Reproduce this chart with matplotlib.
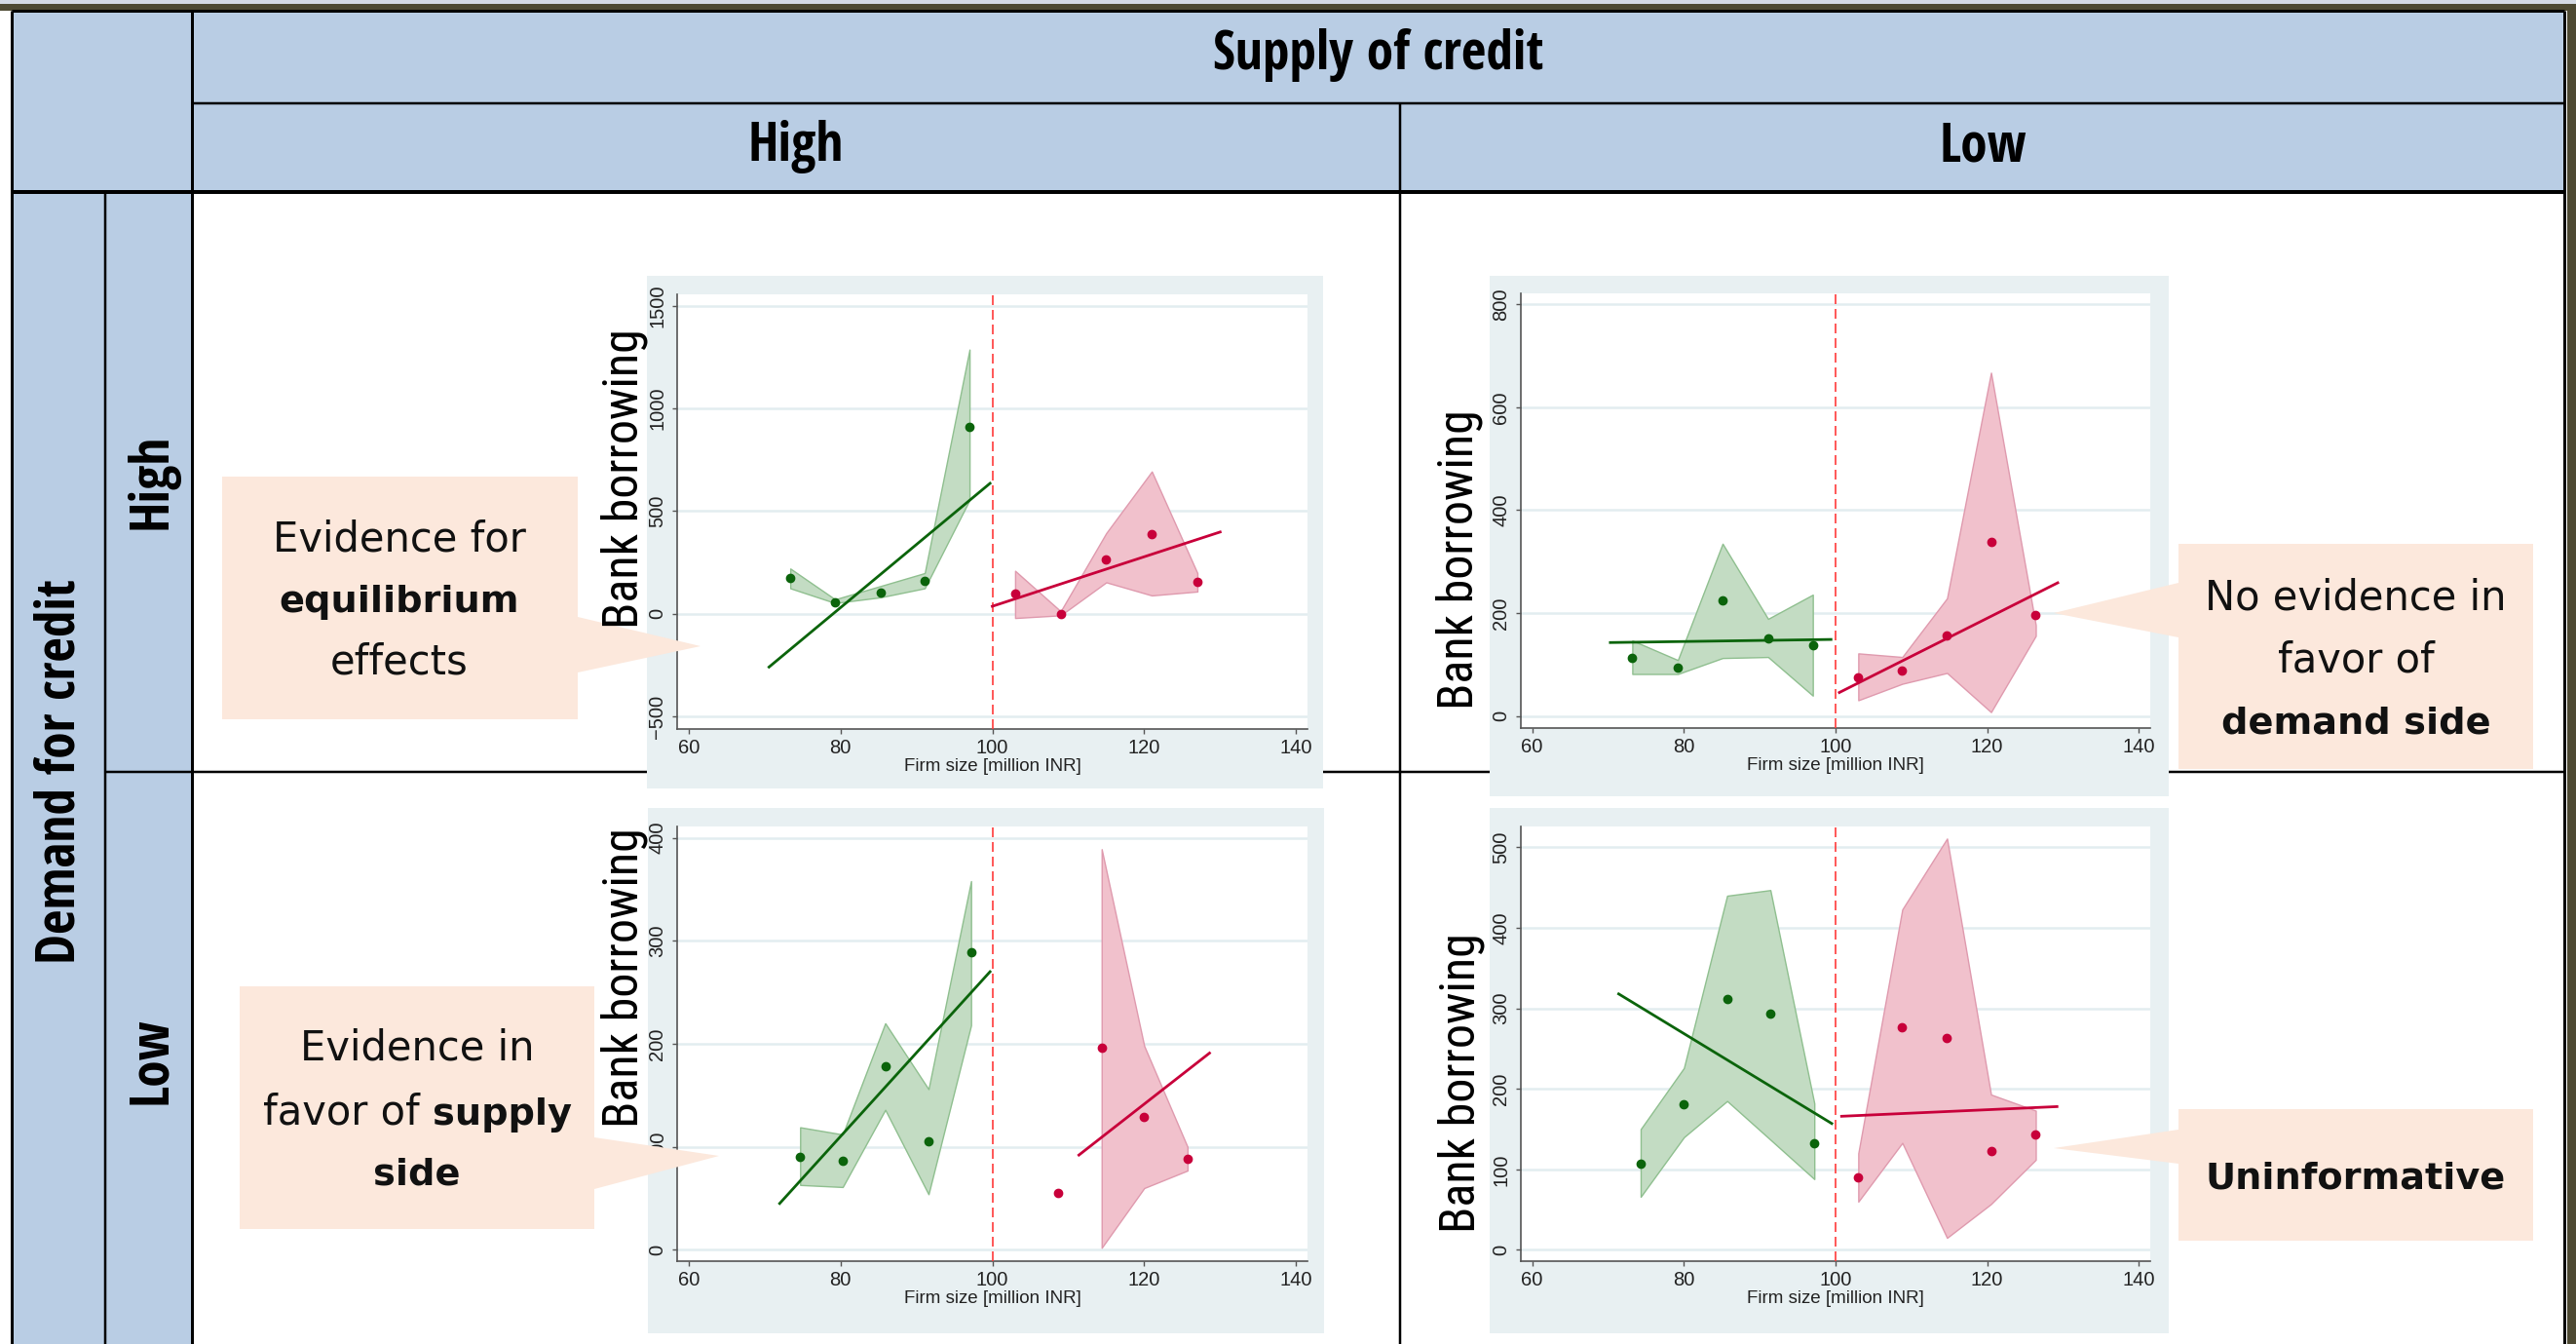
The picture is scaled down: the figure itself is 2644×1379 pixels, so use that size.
"""Credit supply / demand grid with four RD-style panels of bank borrowing."""

import matplotlib
matplotlib.use('Agg')
import matplotlib.pyplot as plt
from matplotlib.patches import Rectangle, Polygon
from matplotlib.lines import Line2D

W, H = 2644, 1379

# ---- data ----
# top-left: supply high, demand high
tl_green_x = [73.4, 79.3, 85.3, 91.1, 97.0]
tl_green_y = [172, 56, 101, 161, 911]
tl_green_lo = [124, 52, 80, 124, 554]
tl_green_hi = [220, 70, 135, 198, 1287]
tl_green_fit_x = [70.6, 99.7]
tl_green_fit_y = [-260, 635]
tl_red_x = [103.0, 109.0, 115.0, 121.0, 127.0]
tl_red_y = [97, 0, 265, 390, 153]
tl_red_band_x = [103.0, 109.0, 115.0, 121.0, 127.0]
tl_red_lo = [-21, -8, 153, 89, 108]
tl_red_hi = [209, 12, 393, 693, 198]
tl_red_fit_x = [100.0, 130.0]
tl_red_fit_y = [36, 398]
tl_yticks = [-500, 0, 500, 1000, 1500]

# top-right: supply low, demand high
tr_green_x = [73.2, 79.2, 85.1, 91.1, 97.0]
tr_green_y = [114, 94, 224, 151, 137]
tr_green_lo = [82, 82, 113, 115, 40]
tr_green_hi = [147, 109, 335, 189, 236]
tr_green_fit_x = [70.3, 99.4]
tr_green_fit_y = [143, 149]
tr_red_x = [103.0, 108.8, 114.7, 120.5, 126.4]
tr_red_y = [76, 88, 156, 338, 197]
tr_red_band_x = [103.0, 108.8, 114.7, 120.5, 126.4]
tr_red_lo = [31, 63, 84, 8, 156]
tr_red_hi = [122, 115, 229, 667, 177]
tr_red_fit_x = [100.5, 129.3]
tr_red_fit_y = [46, 259]
tr_yticks = [0, 200, 400, 600, 800]

# bottom-left: supply high, demand low
bl_green_x = [74.7, 80.3, 85.9, 91.6, 97.2]
bl_green_y = [90, 86, 178, 105, 289]
bl_green_lo = [63, 61, 136, 54, 218]
bl_green_hi = [119, 112, 220, 156, 358]
bl_green_fit_x = [72.0, 99.7]
bl_green_fit_y = [45, 270]
bl_red_x = [108.6, 114.4, 120.0, 125.7]
bl_red_y = [55, 196, 129, 88]
bl_red_band_x = [114.4, 120.0, 125.7]
bl_red_lo = [2, 60, 77]
bl_red_hi = [389, 198, 100]
bl_red_fit_x = [111.4, 128.6]
bl_red_fit_y = [92, 191]
bl_yticks = [0, 100, 200, 300, 400]

# bottom-right: supply low, demand low
br_green_x = [74.3, 80.0, 85.7, 91.4, 97.2]
br_green_y = [107, 181, 312, 293, 133]
br_green_lo = [66, 140, 185, 137, 88]
br_green_hi = [150, 226, 440, 447, 182]
br_green_fit_x = [71.4, 99.5]
br_green_fit_y = [318, 157]
br_red_x = [103.0, 108.8, 114.7, 120.5, 126.4]
br_red_y = [90, 277, 263, 123, 143]
br_red_band_x = [103.0, 108.8, 114.7, 120.5, 126.4]
br_red_lo = [60, 133, 15, 57, 112]
br_red_hi = [120, 423, 511, 193, 173]
br_red_fit_x = [100.8, 129.2]
br_red_fit_y = [166, 178]
br_yticks = [0, 100, 200, 300, 400, 500]

xticks = [60, 80, 100, 120, 140]
cutoff = 100

HEADER = '#b9cde4'
PANEL = '#e8f0f2'
PEACH = '#fce8dc'
GREEN = '#0b640b'
GREEN_FILL = '#c3dcc3'
GREEN_EDGE = '#8fbf8f'
RED = '#c8003a'
RED_FILL = '#f1c1cc'
RED_EDGE = '#df9aae'
HEAD_FONT = ['Open Sans Condensed', 'IBM Plex Sans Condensed', 'DejaVu Sans']
NARROW = ['Roboto Condensed', 'IBM Plex Sans Condensed', 'DejaVu Sans']
TICK_FONT = ['Liberation Sans', 'DejaVu Sans']


def fx(x):
    return x / W


def fy(y):
    return 1 - y / H


fig = plt.figure(figsize=(W / 100, H / 100), dpi=100)
fig.patch.set_facecolor('white')


def rect(x0, y0, x1, y1, color, z):
    fig.add_artist(Rectangle((fx(x0), fy(y1)), (x1 - x0) / W, (y1 - y0) / H,
                             transform=fig.transFigure, facecolor=color,
                             edgecolor='none', zorder=z))


def line(x0, y0, x1, y1, px, color='black', z=-2):
    fig.add_artist(Line2D([fx(x0), fx(x1)], [fy(y0), fy(y1)],
                          transform=fig.transFigure, color=color,
                          lw=px * 0.72, zorder=z, solid_capstyle='butt'))


# window chrome at top / right
rect(0, 0, W, 5, '#d4dae4', -3)
rect(0, 4, W, 11, '#4e4a33', -3)
rect(2635, 4, W, H, '#4e4a33', -3)

# table fills
rect(12, 11, 2632, 197, HEADER, -3)
rect(12, 197, 197, H, HEADER, -3)

# table lines
line(12, 11, 2632, 11, 3)
line(12, 11, 12, H, 3)
line(2632, 11, 2632, H, 3)
line(197, 106, 2632, 106, 2.5)
line(12, 197, 2632, 197, 4)
line(197, 11, 197, H, 3)
line(108, 197, 108, H, 2.5)
line(1437, 106, 1437, H, 2.5)
line(108, 792, 2632, 792, 2.5)

# header text
hdr = dict(family=HEAD_FONT, fontweight='bold', fontsize=40, ha='center',
           va='center', zorder=4)
fig.text(fx(1415), fy(57), 'Supply of credit', **hdr)
fig.text(fx(817), fy(151), 'High', **hdr)
fig.text(fx(2035), fy(151), 'Low', **hdr)
fig.text(fx(62), fy(792), 'Demand for credit', rotation=90, **hdr)
fig.text(fx(156), fy(494), 'High', rotation=90, **hdr)
fig.text(fx(156), fy(1088), 'Low', rotation=90, **hdr)

panels = [
    dict(box=(664, 283, 1358, 809), plot=(695, 302, 1342, 748),
         ylim=(-562, 1556), yticks=tl_yticks, lab=(641, 491),
         gx=tl_green_x, gy=tl_green_y, glo=tl_green_lo, ghi=tl_green_hi,
         gfx=tl_green_fit_x, gfy=tl_green_fit_y,
         rx=tl_red_x, ry=tl_red_y, rbx=tl_red_band_x, rlo=tl_red_lo,
         rhi=tl_red_hi, rfx=tl_red_fit_x, rfy=tl_red_fit_y),
    dict(box=(1529, 283, 2226, 817), plot=(1561, 301, 2207, 747),
         ylim=(-23, 821), yticks=tr_yticks, lab=(1498, 574),
         gx=tr_green_x, gy=tr_green_y, glo=tr_green_lo, ghi=tr_green_hi,
         gfx=tr_green_fit_x, gfy=tr_green_fit_y,
         rx=tr_red_x, ry=tr_red_y, rbx=tr_red_band_x, rlo=tr_red_lo,
         rhi=tr_red_hi, rfx=tr_red_fit_x, rfy=tr_red_fit_y),
    dict(box=(665, 829, 1359, 1368), plot=(695, 848, 1342, 1294),
         ylim=(-11, 411), yticks=bl_yticks, lab=(641, 1003),
         gx=bl_green_x, gy=bl_green_y, glo=bl_green_lo, ghi=bl_green_hi,
         gfx=bl_green_fit_x, gfy=bl_green_fit_y,
         rx=bl_red_x, ry=bl_red_y, rbx=bl_red_band_x, rlo=bl_red_lo,
         rhi=bl_red_hi, rfx=bl_red_fit_x, rfy=bl_red_fit_y),
    dict(box=(1529, 829, 2226, 1368), plot=(1561, 848, 2207, 1294),
         ylim=(-14, 526), yticks=br_yticks, lab=(1500, 1111),
         gx=br_green_x, gy=br_green_y, glo=br_green_lo, ghi=br_green_hi,
         gfx=br_green_fit_x, gfy=br_green_fit_y,
         rx=br_red_x, ry=br_red_y, rbx=br_red_band_x, rlo=br_red_lo,
         rhi=br_red_hi, rfx=br_red_fit_x, rfy=br_red_fit_y),
]

for p in panels:
    bx0, by0, bx1, by1 = p['box']
    rect(bx0, by0, bx1, by1, PANEL, -1)
    x0, y0, x1, y1 = p['plot']
    ax = fig.add_axes([fx(x0), fy(y1), (x1 - x0) / W, (y1 - y0) / H])
    ax.set_facecolor('white')
    ax.fill_between(p['gx'], p['glo'], p['ghi'], facecolor=GREEN_FILL,
                    edgecolor=GREEN_EDGE, lw=1.0, zorder=2)
    ax.fill_between(p['rbx'], p['rlo'], p['rhi'], facecolor=RED_FILL,
                    edgecolor=RED_EDGE, lw=1.0, zorder=2)
    ax.axvline(cutoff, color='#ff3b3b', lw=1.2, ls=(0, (6, 3)), zorder=3)
    ax.plot(p['gfx'], p['gfy'], color=GREEN, lw=2.0, zorder=4)
    ax.plot(p['rfx'], p['rfy'], color=RED, lw=2.0, zorder=4)
    ax.plot(p['gx'], p['gy'], 'o', color=GREEN, ms=6, zorder=5)
    ax.plot(p['rx'], p['ry'], 'o', color=RED, ms=6, zorder=5)

    ax.set_xlim(58.5, 141.5)
    ax.set_ylim(*p['ylim'])
    ax.set_xticks(xticks)
    ax.set_yticks(p['yticks'])
    ax.yaxis.grid(True, color='#e2edf0', lw=1.8)
    ax.set_axisbelow(True)
    for s in ('top', 'right'):
        ax.spines[s].set_visible(False)
    for s in ('left', 'bottom'):
        ax.spines[s].set_color('#555555')
        ax.spines[s].set_linewidth(1.2)
    ax.tick_params(axis='both', length=3.6, width=1.0, color='#555555',
                   labelsize=14.5, labelcolor='#222222')
    ax.tick_params(axis='y', pad=4.0)
    ax.tick_params(axis='x', pad=3.5)
    for lab in ax.get_xticklabels() + ax.get_yticklabels():
        lab.set_family(TICK_FONT)
    plt.setp(ax.get_yticklabels(), rotation=90, va='center')
    ax.set_xlabel('Firm size [million INR]', family=TICK_FONT,
                  fontsize=13.5, color='#222222', labelpad=1.0)

    lx, ly = p['lab']
    fig.text(fx(lx), fy(ly), 'Bank borrowing', family=NARROW, fontsize=36,
             rotation=90, ha='center', va='center', zorder=4)

# callouts
callouts = [
    ((228, 489, 593, 738), (593, 633, 690), (719, 663)),
    ((246, 1012, 610, 1261), (610, 1167, 1220), (738, 1186)),
    ((2236, 558, 2600, 789), (2236, 598, 654), (2108, 629)),
    ((2236, 1138, 2600, 1273), (2236, 1159, 1194), (2108, 1178)),
]
for (cx0, cy0, cx1, cy1), (ax_, b0, b1), (tx, ty) in callouts:
    rect(cx0, cy0, cx1, cy1, PEACH, 3)
    fig.add_artist(Polygon([(fx(ax_), fy(b0)), (fx(ax_), fy(b1)),
                            (fx(tx), fy(ty))], closed=True,
                           transform=fig.transFigure, facecolor=PEACH,
                           edgecolor='none', zorder=3))

renderer = fig.canvas.get_renderer()


def rich(xc, yc, parts):
    texts = []
    total = 0
    gap = 0.318 * 30 * 100 / 72
    for s, bold in parts:
        t = fig.text(0, 0, s, family='DejaVu Sans',
                     fontsize=27.5 if bold else 30,
                     fontweight='bold' if bold else 'normal',
                     ha='left', va='baseline', color='#111111', zorder=5)
        w = t.get_window_extent(renderer).width
        texts.append((t, w))
        total += w
    total += gap * (len(parts) - 1)
    x = xc - total / 2
    for t, w in texts:
        t.set_position((fx(x), fy(yc + 14)))
        x += w + gap


rich(410, 551, [('Evidence for', False)])
rich(410, 614, [('equilibrium', True)])
rich(410, 678, [('effects', False)])
rich(428, 1074, [('Evidence in', False)])
rich(428, 1140, [('favor of', False), ('supply', True)])
rich(428, 1202, [('side', True)])
rich(2418, 612, [('No evidence in', False)])
rich(2418, 676, [('favor of', False)])
rich(2418, 738, [('demand side', True)])
rich(2418, 1205, [('Uninformative', True)])

plt.savefig('out.png', dpi=100)
